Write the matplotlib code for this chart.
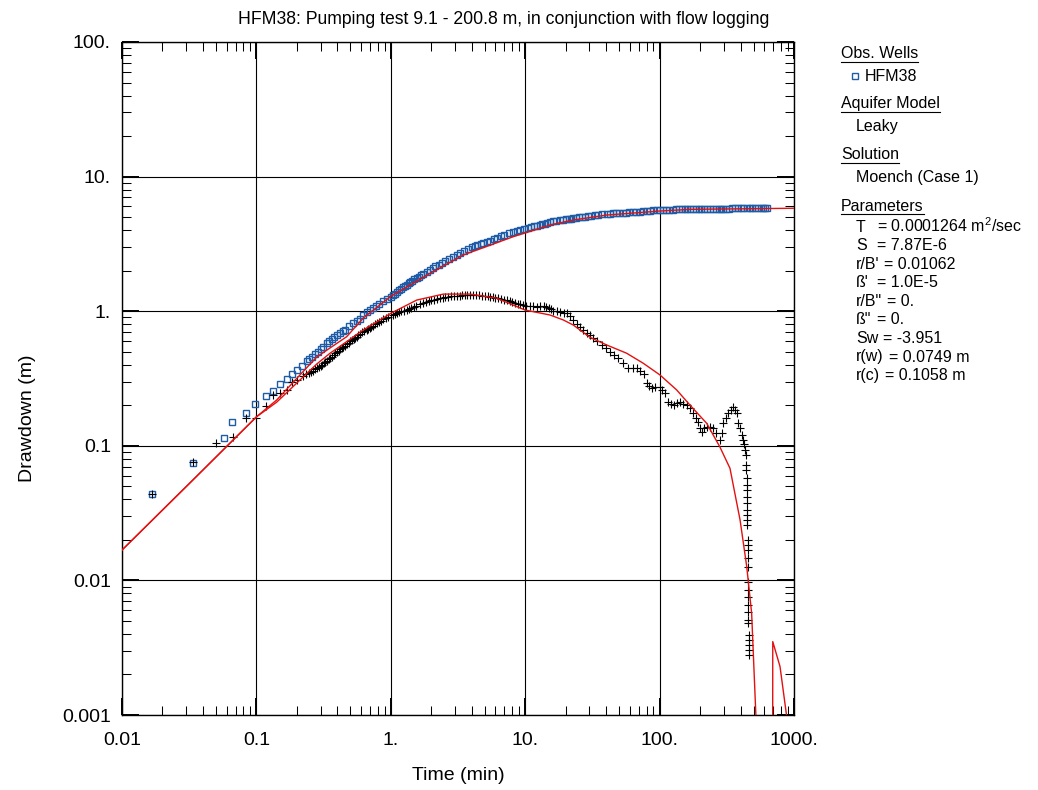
import numpy as np
import matplotlib as mpl
mpl.use("Agg")
import matplotlib.pyplot as plt
from matplotlib.lines import Line2D
from matplotlib.ticker import LogLocator, NullFormatter

mpl.rcParams.update({"font.family": ["Liberation Sans", "DejaVu Sans"],
                     "mathtext.fontset": "custom", "mathtext.rm": "Liberation Sans",
                     "mathtext.it": "Liberation Sans:italic", "mathtext.bf": "Liberation Sans:bold"})

# ---- data ----
# observation well HFM38 (blue squares)
obs_t = [0.0166, 0.0336, 0.0574, 0.0664, 0.0832, 0.0984, 0.117, 0.134, 0.150, 0.168, 0.184, 0.200, 0.218,
         0.237, 0.248, 0.261, 0.274, 0.288, 0.301, 0.315, 0.333, 0.348, 0.363, 0.379, 0.395, 0.419, 0.44,
         0.456, 0.49, 0.526, 0.558, 0.59, 0.624, 0.66, 0.70, 0.741, 0.78, 0.82, 0.87, 0.93, 1.0, 1.07, 1.15,
         1.23, 1.31, 1.40, 1.50, 1.62, 1.75, 1.96, 2.15, 2.4, 2.7, 3.09, 3.5, 4.0, 4.4, 4.88, 5.5, 6.2, 7.0,
         8.16, 9.2, 10.5, 11.7, 12.9, 14.0, 15.3, 17, 19, 21, 22.8, 25, 28, 31, 35, 40.4, 45, 50, 56, 63,
         71.4, 80, 90, 100.6, 112, 125, 140, 155, 168, 185, 205, 225, 250, 275, 297, 330, 365, 400, 445, 490,
         540, 590, 630,
         # in-between readings of the dense band
         1.035, 1.11, 1.19, 1.27, 1.355, 1.45, 1.56, 1.68, 1.85, 2.05, 2.27, 2.55, 2.9, 3.3, 3.75, 4.2, 4.65,
         5.2, 5.85, 6.6, 7.55, 8.7, 9.85, 11.1, 12.3, 13.4, 14.6, 16.1, 18, 20, 21.9, 23.9, 26.5, 29.5, 33,
         37.5, 42.5, 47.5, 53, 59.5, 67, 75.5, 85, 95, 106, 118, 132, 147, 161, 176, 195, 215, 237, 262, 286,
         313, 347, 382, 420, 467, 515, 565, 610]
obs_s = [0.0441, 0.0741, 0.114, 0.151, 0.176, 0.205, 0.236, 0.255, 0.286, 0.312, 0.344, 0.366, 0.392,
         0.425, 0.439, 0.46, 0.481, 0.50, 0.521, 0.545, 0.578, 0.60, 0.625, 0.645, 0.665, 0.69, 0.71,
         0.725, 0.77, 0.813, 0.84, 0.88, 0.937, 0.98, 1.02, 1.06, 1.10, 1.14, 1.19, 1.24, 1.28, 1.35, 1.43,
         1.50, 1.57, 1.65, 1.72, 1.81, 1.89, 2.02, 2.15, 2.30, 2.46, 2.62, 2.80, 3.00, 3.10, 3.19, 3.35, 3.52,
         3.68, 3.90, 4.02, 4.15, 4.27, 4.37, 4.48, 4.62, 4.70, 4.80, 4.86, 4.90, 4.97, 5.05, 5.12, 5.19, 5.27,
         5.32, 5.36, 5.40, 5.45, 5.49, 5.55, 5.60, 5.65, 5.67, 5.69, 5.71, 5.72, 5.74, 5.75, 5.76, 5.76, 5.77,
         5.78, 5.78, 5.79, 5.80, 5.80, 5.81, 5.82, 5.82, 5.82, 5.82,
         1.31, 1.39, 1.47, 1.53, 1.61, 1.69, 1.77, 1.85, 1.95, 2.08, 2.22, 2.38, 2.54, 2.71, 2.90, 3.05, 3.15,
         3.27, 3.44, 3.60, 3.79, 3.96, 4.09, 4.21, 4.32, 4.43, 4.55, 4.66, 4.75, 4.83, 4.88, 4.93, 5.01, 5.09,
         5.16, 5.23, 5.30, 5.34, 5.38, 5.43, 5.47, 5.52, 5.58, 5.63, 5.66, 5.68, 5.70, 5.72, 5.73, 5.75, 5.76,
         5.76, 5.77, 5.78, 5.78, 5.79, 5.80, 5.80, 5.81, 5.82, 5.82, 5.82, 5.83]

# second record (black crosses)
cross_t = [0.0166, 0.0336, 0.0498, 0.0673, 0.0838, 0.0987, 0.117, 0.134, 0.150, 0.168, 0.183, 0.200, 0.222,
           0.248, 0.265, 0.281, 0.30, 0.317, 0.335, 0.353, 0.375, 0.40, 0.42, 0.444, 0.47, 0.50, 0.53, 0.558,
           0.59, 0.63, 0.665, 0.70, 0.74, 0.79, 0.84, 0.879, 0.95, 1.04, 1.12, 1.20, 1.31, 1.42, 1.55, 1.75,
           1.92, 2.10, 2.32, 2.55, 2.80, 3.09, 3.4, 3.7, 4.11, 4.5, 5.0, 5.47, 6.0, 6.6, 7.28, 8.0, 8.8, 9.68,
           10.8, 12.2, 13.7, 15.0, 16.2, 18.2, 20.4, 21.5, 22.8, 24.2, 25.6, 27.1, 28.7, 30.4, 32.2, 34.5,
           37.1, 40, 42.8, 46, 49.3, 53.5, 58.5, 63, 67.6, 72, 76.6, 80.2, 83.5, 87.4, 93, 100.6, 105, 110,
           116, 121, 127, 134, 142, 150, 159, 168, 178, 186, 194, 200, 206, 215, 224, 237, 251, 265, 281, 290,
           298, 310, 325, 338, 350, 362, 375, 385, 395, 408, 418, 425, 432, 438, 442, 443, 444, 445, 446, 447,
           448, 448, 449, 449, 450, 452, 452, 453, 453, 455, 455, 456, 456, 457, 457, 458, 458, 459, 459, 460,
           460, 460,
           # in-between readings of the dense band
           0.235, 0.256, 0.273, 0.29, 0.309, 0.326, 0.344, 0.364, 0.387, 0.41, 0.43, 0.457, 0.485, 0.515,
           0.545, 0.575, 0.61, 0.68, 0.715, 0.765, 0.815, 0.92, 1.08, 1.16, 1.255, 1.365, 1.48, 1.65, 1.83,
           2.0, 2.2, 2.43, 2.68, 2.95, 3.25, 3.55, 3.9, 4.3, 4.75, 5.25, 5.75, 6.3, 6.95, 7.65, 8.4, 9.2, 10.2,
           11.5, 12.9, 14.3, 15.6, 17.2, 19.3]
cross_s = [0.0442, 0.0762, 0.1055, 0.117, 0.160, 0.160, 0.199, 0.240, 0.245, 0.260, 0.300, 0.308, 0.33,
           0.346, 0.36, 0.377, 0.39, 0.41, 0.43, 0.447, 0.47, 0.50, 0.52, 0.545, 0.57, 0.60, 0.625, 0.647,
           0.68, 0.71, 0.73, 0.746, 0.78, 0.82, 0.85, 0.871, 0.90, 0.937, 0.97, 0.995, 1.02, 1.06, 1.10, 1.15,
           1.19, 1.22, 1.25, 1.27, 1.29, 1.30, 1.31, 1.32, 1.32, 1.31, 1.30, 1.28, 1.26, 1.23, 1.21, 1.18,
           1.14, 1.11, 1.09, 1.08, 1.09, 1.05, 1.01, 0.99, 0.964, 0.92, 0.861, 0.81, 0.767, 0.72, 0.685, 0.66,
           0.629, 0.60, 0.561, 0.53, 0.500, 0.47, 0.447, 0.41, 0.380, 0.378, 0.377, 0.36, 0.341, 0.294, 0.28,
           0.270, 0.272, 0.275, 0.26, 0.245, 0.213, 0.205, 0.201, 0.207, 0.213, 0.205, 0.201, 0.19, 0.174,
           0.16, 0.151, 0.135, 0.127, 0.135, 0.139, 0.137, 0.135, 0.125, 0.110, 0.125, 0.147, 0.16, 0.174,
           0.185, 0.195, 0.185, 0.174, 0.147, 0.135, 0.120, 0.11, 0.104, 0.093, 0.085, 0.0720, 0.0661, 0.0577,
           0.0512, 0.0470, 0.0417, 0.0376, 0.0333, 0.0306, 0.0281, 0.0258, 0.0200, 0.0183, 0.0168, 0.0147,
           0.0126, 0.00973, 0.00849, 0.00753, 0.00656, 0.00582, 0.00508, 0.00482, 0.00393, 0.00360, 0.00331,
           0.00304, 0.00279,
           0.34, 0.355, 0.37, 0.385, 0.40, 0.42, 0.44, 0.46, 0.485, 0.51, 0.53, 0.555, 0.585, 0.61,
           0.635, 0.665, 0.695, 0.74, 0.76, 0.80, 0.835, 0.89, 0.955, 0.985, 1.01, 1.04, 1.08, 1.125, 1.17,
           1.205, 1.235, 1.26, 1.28, 1.295, 1.305, 1.315, 1.32, 1.315, 1.305, 1.29, 1.27, 1.245, 1.22, 1.195,
           1.16, 1.125, 1.10, 1.085, 1.085, 1.07, 1.03, 1.00, 0.975]

# Moench type curves (red)
fit_a_t = [0.01, 0.0316, 0.1, 0.1416, 0.281, 0.470, 0.624, 1.0, 1.96, 3.47, 8.17, 15.3, 22.8, 40.4, 100.6,
           168, 1000]
fit_a_s = [0.0168, 0.0523, 0.164, 0.219, 0.457, 0.647, 0.889, 1.29, 1.91, 2.62, 3.58, 4.37, 4.76, 5.18, 5.55,
           5.71, 5.82]
fit_b_t = [0.01, 0.0316, 0.1, 0.1416, 0.281, 0.353, 0.624, 1.0, 1.56, 2.46, 3.88, 6.13, 9.98, 15.3, 19.2,
           22.8, 30.3, 40.4, 56.9, 75.7, 100.6, 134, 168, 224, 281, 334, 397, 445, 484, 521, 535, 690, 695,
           787, 883, 950]
fit_b_s = [0.0168, 0.0523, 0.164, 0.211, 0.405, 0.487, 0.725, 0.964, 1.21, 1.34, 1.34, 1.25, 1.02, 0.937,
           0.861, 0.789, 0.640, 0.561, 0.487, 0.410, 0.336, 0.260, 0.201, 0.147, 0.098, 0.068, 0.0281,
           0.01265, 0.0057, 0.00097, 1e-6, 1e-6, 0.00351, 0.00229, 0.00097, 1e-6]

x_ticks = [0.01, 0.1, 1, 10, 100, 1000]
x_labels = ["0.01", "0.1", "1.", "10.", "100.", "1000."]
y_ticks = [0.001, 0.01, 0.1, 1, 10, 100]
y_labels = ["0.001", "0.01", "0.1", "1.", "10.", "100."]

title = "HFM38: Pumping test 9.1 - 200.8 m, in conjunction with flow logging"
heads = ["Obs. Wells", "Aquifer Model", "Solution", "Parameters"]
well_name = "HFM38"
aquifer = "Leaky"
solution = "Moench (Case 1)"
param_names = ["T", "S", "r/B'", "ß'", 'r/B"', 'ß"', "Sw", "r(w)", "r(c)"]
param_values = ["0.0001264 m$^{2}$/sec", "7.87E-6", "0.01062", "1.0E-5", "0.", "0.", "-3.951",
                "0.0749 m", "0.1058 m"]

BLUE, RED = "#1f5ca8", "#e41010"
W, H = 1038, 790
fx = lambda x: x / W
fy = lambda y: 1 - y / H

fig = plt.figure(figsize=(W / 100, H / 100), dpi=100)
ax = fig.add_axes([fx(122), fy(715), (794 - 122) / W, (715 - 42) / H])
ax.set_xscale("log"); ax.set_yscale("log")
ax.plot(obs_t, obs_s, ls="none", marker="s", ms=4.3, mfc="none", mec=BLUE, mew=1.0, zorder=3)
ax.plot(cross_t, cross_s, ls="none", marker="+", ms=5.6, mec="k", mew=0.8, zorder=4)
ax.plot(fit_a_t, fit_a_s, color=RED, lw=1.0, zorder=5)
ax.plot(fit_b_t, fit_b_s, color=RED, lw=1.0, zorder=5)
ax.set_xlim(0.01, 1000); ax.set_ylim(0.001, 100)

ax.set_xticks(x_ticks); ax.set_xticklabels(x_labels)
ax.set_yticks(y_ticks); ax.set_yticklabels(y_labels)
for a in (ax.xaxis, ax.yaxis):
    a.set_minor_locator(LogLocator(base=10, subs=np.arange(2, 10), numticks=20))
    a.set_minor_formatter(NullFormatter())
ax.tick_params(which="major", direction="in", length=12, width=1.4, top=True, right=True,
               labelsize=14, pad=8)
ax.tick_params(axis="x", which="major", pad=12)
ax.tick_params(which="minor", direction="in", length=6.5, width=0.75, top=True, right=True)
ax.grid(which="major", color="k", lw=0.8)
ax.set_axisbelow(True)
for s in ax.spines.values(): s.set_linewidth(1.0)

fig.text(fx(504), fy(20), title, ha="center", va="center", fontsize=12.7)
fig.text(fx(458), fy(775), "Time (min)", ha="center", va="center", fontsize=14)
fig.text(fx(27), fy(418), "Drawdown (m)", ha="center", va="center", rotation=90, fontsize=14)

# side panel
fs = 11.5
head_y = [58.3, 108.3, 159.3, 210.7]
head_txt = [fig.text(fx(841), fy(y), h, fontsize=fs, va="baseline") for h, y in zip(heads, head_y)]
fig.add_artist(Line2D([fx(855)], [fy(76)], marker="s", ms=4.3, mfc="none", mec=BLUE, mew=1.0,
                      transform=fig.transFigure))
fig.text(fx(865), fy(80.7), well_name, fontsize=fs, va="baseline")
fig.text(fx(856), fy(130.7), aquifer, fontsize=fs, va="baseline")
fig.text(fx(856), fy(181.7), solution, fontsize=fs, va="baseline")
pb = [232 + 18.5 * i for i in range(len(param_names))]
name_txt = [fig.text(fx(856), fy(y), n, fontsize=fs, va="baseline") for n, y in zip(param_names, pb)]

fig.canvas.draw()
r = fig.canvas.get_renderer()
for t, y in zip(head_txt, head_y):
    bb = t.get_window_extent(r)
    fig.add_artist(Line2D([bb.x0 / W, bb.x1 / W], [fy(y + 3.2)] * 2, color="k", lw=0.8,
                          transform=fig.transFigure))
for t, v, y in zip(name_txt, param_values, pb):
    bb = t.get_window_extent(r)
    xe = max(877, bb.x1 + 5)
    fig.text(fx(xe), fy(y), "= " + v, fontsize=fs, va="baseline")

fig.savefig("out.png", dpi=100)
